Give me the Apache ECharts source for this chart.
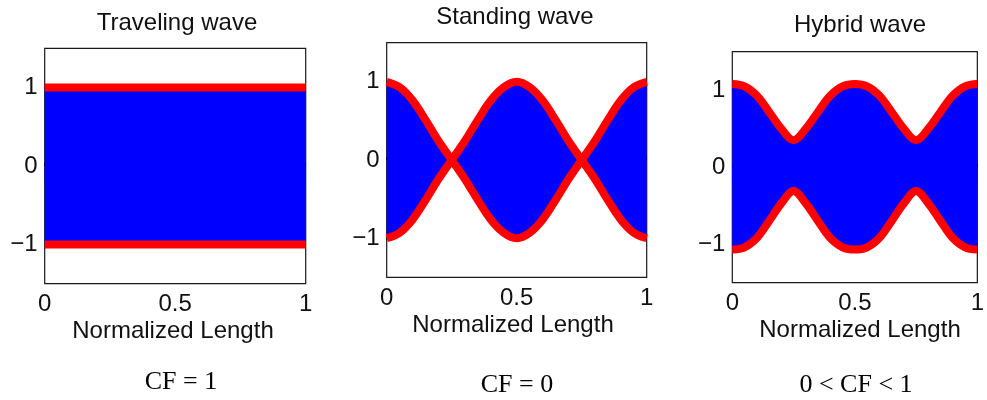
<!DOCTYPE html>
<html>
<head>
<meta charset="utf-8">
<script src="https://cdn.jsdelivr.net/npm/echarts@6/dist/echarts.min.js"></script>
<style>
html,body{margin:0;padding:0;background:#fff;}
#chart{width:987px;height:400px;}
</style>
</head>
<body>
<div id="chart"></div>
<script>
// ---- data ----
const titles = ["Traveling wave", "Standing wave", "Hybrid wave"];
const xAxisName = "Normalized Length";
const cfLabels = ["CF = 1", "CF = 0", "0 < CF < 1"];
const xTicks = [0, 0.5, 1];
const yTicks = [-1, 0, 1];
const lengths = [0, 0.05, 0.1, 0.15, 0.2, 0.25, 0.3, 0.35, 0.4, 0.45, 0.5,
                 0.55, 0.6, 0.65, 0.7, 0.75, 0.8, 0.85, 0.9, 0.95, 1];
const travelUpper = [1, 1, 1, 1, 1, 1, 1, 1, 1, 1, 1, 1, 1, 1, 1, 1, 1, 1, 1, 1, 1];
const travelLower = [-1, -1, -1, -1, -1, -1, -1, -1, -1, -1, -1, -1, -1, -1, -1, -1, -1, -1, -1, -1, -1];
const standingUpper = [1, 0.93, 0.76, 0.51, 0.24, 0, -0.24, -0.51, -0.76, -0.93, -1,
                       -0.93, -0.76, -0.51, -0.24, 0, 0.24, 0.51, 0.76, 0.93, 1];
const standingLower = [-1, -0.93, -0.76, -0.51, -0.24, 0, 0.24, 0.51, 0.76, 0.93, 1,
                       0.93, 0.76, 0.51, 0.24, 0, -0.24, -0.51, -0.76, -0.93, -1];
const hybridUpper = [1.08, 1.05, 0.93, 0.72, 0.5, 0.35, 0.5, 0.72, 0.93, 1.05, 1.08,
                     1.05, 0.93, 0.72, 0.5, 0.35, 0.5, 0.72, 0.93, 1.05, 1.08];
const hybridLower = [-1.07, -1.04, -0.92, -0.7, -0.47, -0.31, -0.47, -0.7, -0.92, -1.04, -1.07,
                     -1.04, -0.92, -0.7, -0.47, -0.31, -0.47, -0.7, -0.92, -1.04, -1.07];

const envelopes = [
  [travelUpper, travelLower],
  [standingUpper, standingLower],
  [hybridUpper, hybridLower]
];

// ---- layout ----
const grids = [
  {left: 44.7, top: 48.3, width: 261, height: 235.4},
  {left: 386.7, top: 42.7, width: 260, height: 234.6},
  {left: 732.3, top: 51.7, width: 255.4, height: 231}
];
// fill origin of the upper envelope (overlaps the lower fill to avoid a seam)
const upperFillOrigin = [-0.2, 0, -0.2];
const titlePos = [[177, 23], [515, 17], [860, 25]];
const namePos = [[173, 331], [513, 325.5], [860, 330]];
const cfPos = [[181, 382], [517, 385], [856, 385]];

const SANS = '"Liberation Sans", Arial, sans-serif';
const SERIF = '"Liberation Serif", "Times New Roman", serif';
const TXT = '#111';
const BLUE = '#0000ff';
const RED = '#ff0000';

const pairs = (ys) => lengths.map((x, i) => [x, ys[i]]);

const option = {
  animation: false,
  backgroundColor: '#fff',
  grid: grids.map(g => Object.assign({show: true, borderColor: '#1a1a1a', borderWidth: 1.2,
                                      backgroundColor: '#fff', containLabel: false}, g)),
  xAxis: grids.map((g, i) => ({
    type: 'value', gridIndex: i, min: 0, max: 1,
    axisLine: {show: false},
    splitLine: {show: false},
    axisTick: {show: true, inside: true, length: 3, lineStyle: {color: '#000'}, customValues: xTicks},
    axisLabel: {show: true, customValues: xTicks, margin: 9, color: TXT, fontFamily: SANS, fontSize: 24,
                showMinLabel: true, showMaxLabel: true,
                formatter: v => String(v)}
  })),
  yAxis: grids.map((g, i) => ({
    type: 'value', gridIndex: i, min: -1.5, max: 1.5,
    axisLine: {show: false},
    splitLine: {show: false},
    axisTick: {show: true, inside: true, length: 3, lineStyle: {color: '#000'}, customValues: yTicks},
    axisLabel: {show: true, customValues: yTicks, margin: 7, color: TXT, fontFamily: SANS, fontSize: 24,
                formatter: v => String(v).replace('-', '\u2212')}
  })),
  series: [],
  graphic: []
};

envelopes.forEach((env, i) => {
  env.forEach((ys, k) => {
    option.series.push({
      type: 'line', xAxisIndex: i, yAxisIndex: i, data: pairs(ys),
      smooth: 0.35, symbol: 'none', z: 1, silent: true,
      lineStyle: {width: 0, color: BLUE},
      areaStyle: {color: BLUE, opacity: 1, origin: k === 0 ? upperFillOrigin[i] : 0}
    });
  });
  env.forEach(ys => {
    option.series.push({
      type: 'line', xAxisIndex: i, yAxisIndex: i, data: pairs(ys),
      smooth: 0.35, symbol: 'none', z: 3, silent: true,
      lineStyle: {width: 8, color: RED, cap: 'butt', join: 'round'}
    });
  });
});

titles.forEach((t, i) => {
  option.graphic.push({type: 'text', x: titlePos[i][0], y: titlePos[i][1], z: 10,
    style: {text: t, font: '24px ' + SANS, fill: TXT, textAlign: 'center', textVerticalAlign: 'middle'}});
  option.graphic.push({type: 'text', x: namePos[i][0], y: namePos[i][1], z: 10,
    style: {text: xAxisName, font: '24px ' + SANS, fill: TXT, textAlign: 'center', textVerticalAlign: 'middle'}});
  option.graphic.push({type: 'text', x: cfPos[i][0], y: cfPos[i][1], z: 10,
    style: {text: cfLabels[i], font: '26px ' + SERIF, fill: '#000', textAlign: 'center', textVerticalAlign: 'middle'}});
});

const chart = echarts.init(document.getElementById('chart'), null, {renderer: 'canvas'});
chart.setOption(option);
</script>
</body>
</html>
